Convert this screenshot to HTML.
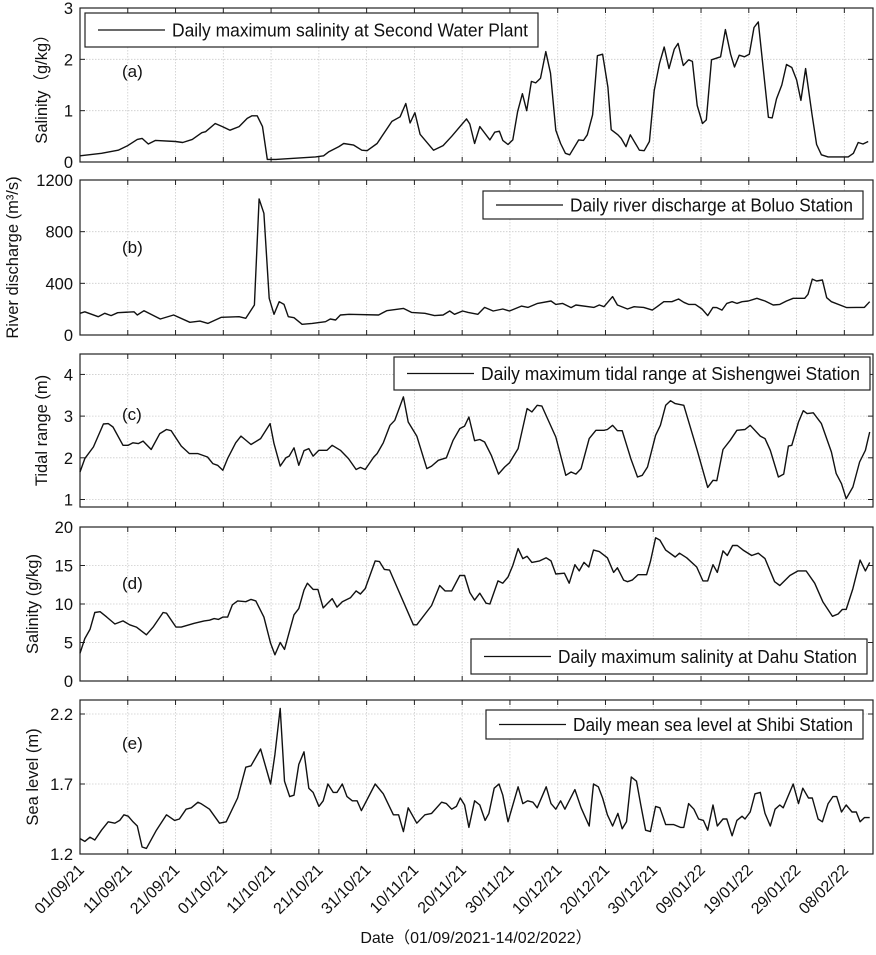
<!DOCTYPE html>
<html><head><meta charset="utf-8"><style>
body{margin:0;background:#fff;}
svg text{font-family:"Liberation Sans","Noto Sans CJK SC",sans-serif;fill:#111;}
</style></head><body>
<svg id="chart" width="876" height="950" viewBox="0 0 876 950" xmlns="http://www.w3.org/2000/svg"></svg>
<script>
const xTickLabels=["01/09/21","11/09/21","21/09/21","01/10/21","11/10/21","21/10/21","31/10/21","10/11/21","20/11/21","30/11/21","10/12/21","20/12/21","30/12/21","09/01/22","19/01/22","29/01/22","08/02/22"];
const xTickDays=[0,10,20,30,40,50,60,70,80,90,100,110,120,130,140,150,160];

const aDays=[0,4.5,8,10,12,13,14.3,15.8,20,21.5,23.5,25.5,26.3,28.3,29.8,31.4,33.3,35,36,37.1,38.2,39.2,41,49.3,51,52.1,54.2,55.2,57.3,59,60.1,62.2,65.3,67,68.2,69.1,70.1,71.2,74,76,77.8,80.9,81.6,82.6,83.7,85.8,86.8,87.8,88.5,89.6,90.6,91.6,92.6,93.5,94.5,95.4,96.4,97.5,98.5,99.6,100.6,101.6,102.5,104.4,105.4,106.2,107.3,108.3,109.4,110.5,111.2,112.6,113.3,114.3,115.2,117.1,118.1,119.2,120.2,121.3,122.3,123.3,124.4,125.2,126.3,127.4,128.2,129.2,130.3,131.1,132.2,134.1,135.1,136.2,137,138,139.1,140.1,141.1,142,144.1,144.9,145.8,146.9,147.9,149,150,150.9,151.9,153.2,154.2,155.2,156.6,160.8,161.9,162.9,163.9,165];
const aVals=[0.12,0.17,0.23,0.32,0.44,0.46,0.35,0.42,0.40,0.38,0.44,0.57,0.59,0.75,0.69,0.62,0.69,0.85,0.90,0.90,0.69,0.05,0.05,0.1,0.12,0.2,0.3,0.36,0.33,0.23,0.22,0.36,0.79,0.88,1.14,0.76,0.96,0.54,0.23,0.32,0.50,0.84,0.74,0.36,0.69,0.43,0.58,0.60,0.42,0.34,0.43,0.98,1.33,1.0,1.57,1.54,1.63,2.15,1.73,0.62,0.36,0.17,0.14,0.43,0.42,0.53,0.92,2.07,2.1,1.46,0.63,0.53,0.46,0.30,0.53,0.23,0.22,0.40,1.39,1.92,2.24,1.82,2.2,2.31,1.88,1.99,1.96,1.1,0.75,0.82,1.99,2.05,2.58,2.1,1.85,2.08,2.05,2.1,2.62,2.73,0.87,0.86,1.23,1.5,1.9,1.84,1.6,1.2,1.82,0.94,0.34,0.14,0.1,0.1,0.17,0.38,0.35,0.40];

const bDays=[0,1,3.8,5.2,6.5,7.9,11.3,12,13.4,16.8,19.6,23,25.1,26.8,29.6,33.3,34.7,36.5,37.5,38.5,39.6,40.6,41.7,42.7,43.6,44.8,46.5,48.6,51.4,52.4,53.5,54.5,56.3,62.5,64.2,67.7,69.4,72.2,74.2,76,77.4,78.4,80.1,81.25,83.3,84.7,86.5,88.5,89.9,92.4,93.8,95.8,98.6,99.6,101,102.8,103.8,107.6,108.7,109.7,111.5,112.5,114.6,116,118,119.8,120.8,122.2,123.9,125.3,126.4,127.4,128.8,130.2,131.4,132.5,133.3,134.4,135.4,136.5,137.5,138.6,139.9,141.7,143.4,145.1,146.5,147.9,149.3,151.7,152.4,153.3,154.2,155.4,156.3,157.3,160.5,162.5,164.2,165.3];
const bVals=[168,180,142,168,150,173,180,155,188,124,155,98,108,90,137,142,129,232,1053,942,284,160,258,237,142,134,83,90,103,124,116,155,160,155,188,206,175,168,150,155,186,160,186,175,160,214,186,201,186,224,214,245,263,237,245,212,232,214,232,219,297,232,201,219,214,193,219,258,258,279,253,237,237,201,150,214,212,193,245,258,245,258,263,284,263,232,237,263,284,284,315,433,418,426,289,258,212,214,214,258];

const cDays=[0,1,2.8,4.9,5.9,6.9,9,10.1,11.1,12.2,13.2,14.9,16.7,18.1,19.1,21.2,22.9,24.7,26.7,27.8,28.8,29.9,30.9,32.6,33.7,35.8,37.8,39.8,40.6,41.9,43.1,43.8,44.8,45.8,46.9,47.9,48.8,50,51.7,52.8,54.5,56.2,57.8,58.7,59.7,61.5,62.2,63.5,64.9,65.9,67.7,68.7,70.5,72.6,73.6,75,76.7,78.1,79.5,80.5,81.4,82.6,83.7,84.7,86.1,87.6,88.9,89.9,91.7,93.6,94.6,95.7,96.7,99.6,101.7,102.8,103.8,104.9,106.6,108,109.7,110.4,111.5,112.5,113.5,115.3,116.7,117.7,118.8,120.5,121.5,122.6,123.6,124.6,126.4,129.2,131.4,132.5,133.3,134.6,136.1,137.5,139.2,140.3,142.4,143.4,144.5,146.2,147.3,148.3,149,150.4,151.4,152.2,153.5,155.2,157.3,158.3,159.4,160.4,161.8,163.2,164.4,165.3];
const cVals=[1.66,1.98,2.26,2.81,2.82,2.74,2.30,2.30,2.36,2.34,2.40,2.2,2.58,2.68,2.65,2.28,2.1,2.1,2.02,1.86,1.82,1.70,1.98,2.36,2.52,2.32,2.46,2.82,2.34,1.80,2.0,2.04,2.24,1.82,2.17,2.22,2.04,2.18,2.18,2.30,2.18,1.98,1.72,1.77,1.72,2.02,2.1,2.36,2.78,2.9,3.46,2.86,2.52,1.74,1.8,1.94,2.0,2.42,2.70,2.76,2.98,2.41,2.44,2.38,2.06,1.61,1.78,1.88,2.22,3.18,3.1,3.26,3.24,2.5,1.58,1.66,1.61,1.74,2.46,2.66,2.66,2.68,2.78,2.65,2.65,1.98,1.54,1.58,1.78,2.54,2.78,3.26,3.37,3.30,3.26,2.18,1.29,1.46,1.45,2.2,2.42,2.66,2.68,2.78,2.52,2.46,2.18,1.54,1.61,2.28,2.30,2.86,3.13,3.06,3.08,2.82,2.14,1.62,1.38,1.02,1.30,1.90,2.18,2.62];

const dDays=[0,1,2.1,3.1,4.2,5.6,7.3,9,10.4,11.8,13.9,15.3,17.4,18.1,20.1,21.2,23.9,26,27.1,28.1,29,29.9,30.9,31.9,33,34.7,35.8,36.8,38.5,39.9,40.8,41.9,42.8,44.8,45.8,46.9,47.6,48.8,49.8,50.9,52.8,53.8,54.9,56.6,57.8,58.7,59.7,61.8,62.7,63.7,64.8,69.8,70.5,73.6,75.3,76.4,77.8,79.5,80.5,81.6,82.6,83.7,85,85.8,87.5,88.5,89.6,90.6,91.7,92.7,93.6,94.6,96.2,97.6,98.6,99.6,101.4,102.4,103.6,104.5,105.5,106.5,107.5,108.7,110.4,111.7,112.5,113.8,114.6,115.6,116.8,118.6,119.4,120.5,121.4,122.6,124.6,125.5,127,129.1,130.4,131.4,132.5,133.4,134.6,135.5,136.6,137.6,138.8,140.6,142,143.4,145.4,146.5,148.6,150.3,152,153.8,155.5,157.5,158.7,159.6,160.4,161.8,163.3,164.4,165.3];
const dVals=[3.6,5.5,6.7,8.9,9.0,8.3,7.4,7.8,7.3,7.0,6.0,7.0,8.9,8.8,7.0,7.0,7.5,7.8,7.9,8.1,8.0,8.3,8.3,9.9,10.4,10.3,10.6,10.4,8.3,4.9,3.4,5.0,4.1,8.6,9.4,11.8,12.7,11.9,11.9,9.5,10.7,9.6,10.3,10.8,11.7,11.3,12.0,15.6,15.5,14.5,14.4,7.3,7.3,9.8,12.4,11.7,11.7,13.7,13.7,11.5,10.5,11.4,10.1,10.0,13.0,12.7,13.5,15.0,17.2,15.9,16.2,15.4,15.6,16.0,15.6,13.9,14.0,12.7,15.1,14.3,15.4,14.8,17.0,16.8,16.0,14.1,14.7,13.1,12.9,13.1,13.8,13.8,15.5,18.6,18.3,17.0,16.1,16.6,16.0,14.8,13.0,13.0,15.1,14.1,16.9,16.3,17.6,17.6,17.0,16.3,16.6,15.9,12.9,12.4,13.7,14.3,14.3,12.7,10.3,8.4,8.7,9.3,9.3,12.0,15.7,14.3,15.4];

const eDays=[0,1,2.1,3.1,4.5,5.9,7.3,8.3,9.2,10.1,11.1,12,13,13.9,16,18.1,19.8,20.8,22.2,23.3,24.7,25.3,27.1,29.2,30.6,33,34.7,35.8,37.8,39.9,40.8,41.9,42.8,43.9,44.8,45.8,46.9,47.9,48.8,50,50.9,51.9,53,53.8,54.9,55.9,57,58,58.9,61.8,63.5,65.6,66.7,67.7,68.7,70.5,72.2,73.6,75.7,76.7,77.8,78.8,79.6,80.5,81.4,82.6,83.7,84.8,85.6,86.7,87.7,88.5,89.6,91.7,92.7,93.7,94.8,95.7,97.6,98.6,99.6,100.6,101.5,103.6,104.9,106.6,107.5,108.5,109.4,110.4,111.5,112.6,113.5,114.4,115.4,116.5,117.4,118.4,119.4,120.5,121.4,122.6,124.3,125.7,126.4,127.4,128.5,129.5,130.5,131.4,132.5,133.4,134.6,135.4,136.5,137.5,138.6,139.2,140.3,141.3,142.4,143.4,144.5,145.5,146.5,147.2,149.3,150.4,151.3,152.5,153.3,154.5,155.4,156.6,157.6,158.4,159.4,160.4,161.6,162.5,163.3,164.2,165.3];
const eVals=[1.31,1.29,1.32,1.30,1.37,1.43,1.42,1.44,1.48,1.47,1.43,1.40,1.25,1.24,1.37,1.48,1.44,1.45,1.52,1.53,1.57,1.56,1.52,1.42,1.43,1.60,1.82,1.83,1.95,1.70,1.91,2.24,1.72,1.61,1.62,1.84,1.93,1.67,1.64,1.54,1.58,1.70,1.64,1.64,1.70,1.61,1.58,1.58,1.51,1.70,1.63,1.48,1.48,1.36,1.53,1.42,1.48,1.49,1.57,1.56,1.52,1.54,1.60,1.55,1.39,1.58,1.55,1.44,1.49,1.67,1.70,1.62,1.43,1.68,1.56,1.58,1.57,1.53,1.68,1.56,1.52,1.58,1.52,1.66,1.53,1.40,1.70,1.68,1.60,1.48,1.40,1.49,1.38,1.43,1.75,1.72,1.55,1.37,1.36,1.54,1.53,1.41,1.41,1.39,1.39,1.56,1.52,1.45,1.44,1.37,1.55,1.40,1.45,1.45,1.33,1.44,1.47,1.45,1.50,1.63,1.64,1.49,1.40,1.52,1.55,1.53,1.70,1.56,1.67,1.60,1.60,1.45,1.43,1.56,1.61,1.61,1.50,1.55,1.50,1.50,1.43,1.46,1.46];

const NS="http://www.w3.org/2000/svg";
const svg=document.getElementById('chart');
const X0=80,X1=873,DMAX=166;
function xs(d){return X0+(X1-X0)*d/DMAX;}
function mk(tag,attrs,parent){const e=document.createElementNS(NS,tag);for(const k in attrs)e.setAttribute(k,attrs[k]);(parent||svg).appendChild(e);return e;}

const panels=[
 {key:'a',top:8,bot:162,min:0,max:3,ticks:[0,1,2,3],tl:['0','1','2','3'],days:aDays,vals:aVals,
  ylab:'Salinity（g/kg）',ylx:47,leg:[85,13,538,47],legText:'Daily maximum salinity at Second Water Plant',lab:'(a)',labY:77},
 {key:'b',top:180,bot:335,min:0,max:1200,ticks:[0,400,800,1200],tl:['0','400','800','1200'],days:bDays,vals:bVals,
  ylab:'River discharge (m³/s)',ylx:18,leg:[483,191,863,219],legText:'Daily river discharge at Boluo Station',lab:'(b)',labY:253},
 {key:'c',top:354,bot:507,min:0.82,max:4.49,ticks:[1,2,3,4],tl:['1','2','3','4'],days:cDays,vals:cVals,
  ylab:'Tidal range (m)',ylx:47,leg:[394,357,870,390],legText:'Daily maximum tidal range at Sishengwei Station',lab:'(c)',labY:420},
 {key:'d',top:527,bot:681,min:0,max:20,ticks:[0,5,10,15,20],tl:['0','5','10','15','20'],days:dDays,vals:dVals,
  ylab:'Salinity (g/kg)',ylx:38,leg:[471,639,867,674],legText:'Daily maximum salinity at Dahu Station',lab:'(d)',labY:589},
 {key:'e',top:700,bot:854,min:1.2,max:2.3,ticks:[1.2,1.7,2.2],tl:['1.2','1.7','2.2'],days:eDays,vals:eVals,
  ylab:'Sea level (m)',ylx:38,leg:[486,710,863,739],legText:'Daily mean sea level at Shibi Station',lab:'(e)',labY:749}
];

panels.forEach(p=>{
  const g=mk('g',{});
  
  
  const ys=v=>p.bot-(p.bot-p.top)*(v-p.min)/(p.max-p.min);
  xTickDays.forEach(d=>{const l=mk('line',{x1:xs(d),x2:xs(d),y1:p.top,y2:p.bot,stroke:'#ccc','stroke-width':0.8,'stroke-dasharray':'1.5,1.5'},g);
    });
  p.ticks.forEach((t,i)=>{const y=ys(t);
    const l=mk('line',{x1:X0,x2:X1,y1:y,y2:y,stroke:'#ccc','stroke-width':0.8,'stroke-dasharray':'1.5,1.5'},g);
    
    mk('line',{x1:X0,x2:X0+5,y1:y,y2:y,stroke:'#222'},g);
    mk('line',{x1:X1-5,x2:X1,y1:y,y2:y,stroke:'#222'},g);
    const tx=mk('text',{x:X0-7,y:y+6,'text-anchor':'end','font-size':16.5},g);tx.textContent=p.tl[i];
    
  });
  xTickDays.forEach(d=>{mk('line',{x1:xs(d),x2:xs(d),y1:p.bot,y2:p.bot-5,stroke:'#222'},g);mk('line',{x1:xs(d),x2:xs(d),y1:p.top,y2:p.top+5,stroke:'#222'},g);});
  const fr=mk('rect',{x:X0,y:p.top,width:X1-X0,height:p.bot-p.top,fill:'none',stroke:'#222','stroke-width':1.2},g);
  
  const pts=p.days.map((d,i)=>xs(d).toFixed(1)+','+ys(p.vals[i]).toFixed(1)).join(' ');
  const pl=mk('polyline',{points:pts,fill:'none',stroke:'#111','stroke-width':1.4,'stroke-linejoin':'round'},g);
  
  const lb=mk('text',{x:122,y:p.labY,'font-size':17},g);lb.textContent=p.lab;
  
  const cy=(p.top+p.bot)/2;
  const yl=mk('text',{x:p.ylx,y:cy,'font-size':16.5,'text-anchor':'middle',transform:'rotate(-90 '+p.ylx+' '+cy+')'},g);
  yl.textContent=p.ylab;
  
  const [lx0,ly0,lx1,ly1]=p.leg;
  const lg=mk('g',{},g);
  
  mk('rect',{x:lx0,y:ly0,width:lx1-lx0,height:ly1-ly0,fill:'#fff',stroke:'#222','stroke-width':1.2},lg);
  const my=(ly0+ly1)/2;
  mk('line',{x1:lx0+13,x2:lx0+80,y1:my,y2:my,stroke:'#111','stroke-width':1.3},lg);
  const lt=mk('text',{x:lx0+87,y:my+6.5,'font-size':18,textLength:lx1-lx0-97,lengthAdjust:'spacingAndGlyphs'},lg);lt.textContent=p.legText;
  
});

xTickDays.forEach((d,i)=>{
  const x=xs(d)+5,y=871;
  const t=mk('text',{x:x,y:y,'font-size':16,'text-anchor':'end',transform:'rotate(-45 '+x+' '+y+')'});
  t.textContent=xTickLabels[i];
  
  
});
const xt=mk('text',{x:476,y:943,'font-size':16,'text-anchor':'middle'});
xt.textContent='Date（01/09/2021-14/02/2022）';


</script>
</body></html>
